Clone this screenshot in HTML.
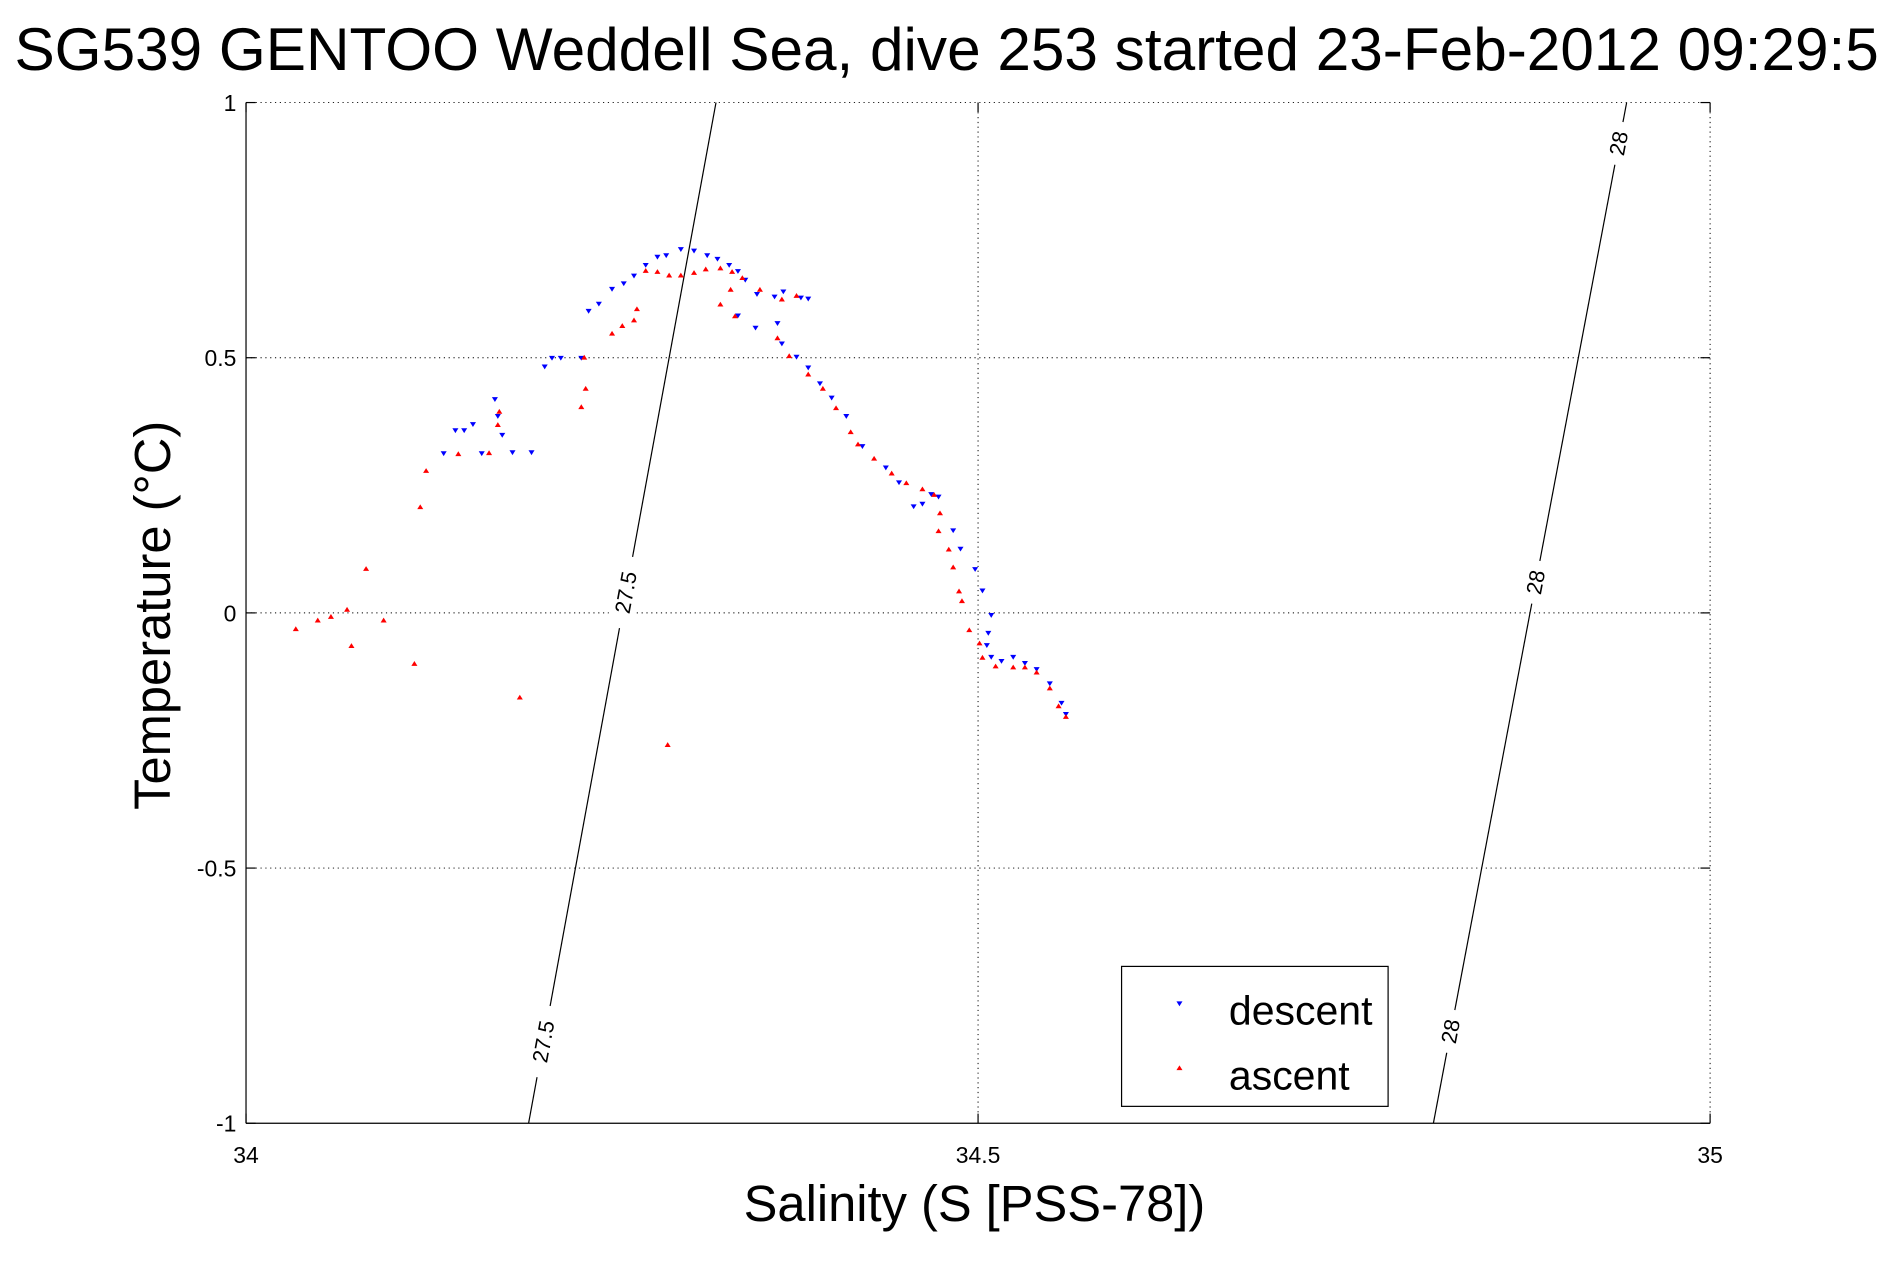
<!DOCTYPE html>
<html><head><meta charset="utf-8"><style>
html,body{margin:0;padding:0;background:#fff;overflow:hidden}
svg{display:block;font-family:"Liberation Sans",sans-serif}
</style></head><body>
<svg id="chart" width="1891" height="1262" viewBox="0 0 1568 1046" preserveAspectRatio="none" xmlns="http://www.w3.org/2000/svg">
<rect width="1568" height="1046" fill="#fff"/>
<text x="12" y="58" font-size="50" fill="#000">SG539 GENTOO Weddell Sea, dive 253 started 23-Feb-2012 09:29:5</text>
<g id="grid"></g>
<g id="contours"></g>
<g id="axes"></g>
<g id="marks"></g>
<text transform="translate(141,510) rotate(-90)" text-anchor="middle" font-size="42">Temperature (°C)</text>
<text x="808" y="1012" text-anchor="middle" font-size="42">Salinity (S [PSS-78])</text>
<g>
<rect x="930" y="801" width="221" height="116" fill="#fff" stroke="#000" stroke-width="1"/>
<polygon points="975.5,830 980.5,830 978,834" fill="#00f"/>
<text x="1019" y="849" font-size="34">descent</text>
<polygon points="975.5,887 980.5,887 978,883" fill="#f00"/>
<text x="1019" y="903" font-size="34">ascent</text>
</g>
</svg>
<script>
const xTicks=[34,34.5,35];
const yTicks=[-1,-0.5,0,0.5,1];
const xTickLabels=["34","34.5","35"];
const yTickLabels=["-1","-0.5","0","0.5","1"];
const descentS=[34.195,34.182,34.161,34.135,34.143,34.149,34.155,34.170,34.172,34.175,34.204,34.209,34.215,34.229,34.234,34.241,34.250,34.258,34.265,34.273,34.281,34.287,34.297,34.306,34.315,34.322,34.330,34.336,34.341,34.349,34.361,34.367,34.379,34.384,34.336,34.348,34.363,34.366,34.376,34.384,34.392,34.400,34.410,34.421,34.437,34.446,34.456,34.462,34.468,34.473,34.483,34.488,34.498,34.503,34.509,34.507,34.506,34.509,34.516,34.524,34.532,34.540,34.549,34.557,34.560];
const descentT=[0.314,0.314,0.312,0.312,0.357,0.357,0.369,0.418,0.385,0.348,0.482,0.499,0.499,0.499,0.591,0.605,0.634,0.645,0.660,0.681,0.697,0.700,0.712,0.709,0.700,0.693,0.681,0.669,0.652,0.624,0.619,0.629,0.617,0.615,0.582,0.558,0.567,0.527,0.501,0.480,0.449,0.421,0.385,0.326,0.284,0.255,0.208,0.213,0.232,0.227,0.161,0.125,0.085,0.043,-0.005,-0.040,-0.064,-0.087,-0.095,-0.087,-0.099,-0.111,-0.139,-0.177,-0.199];
const ascentS=[34.034,34.049,34.058,34.069,34.072,34.082,34.094,34.115,34.119,34.123,34.145,34.166,34.172,34.173,34.187,34.231,34.232,34.229,34.250,34.257,34.265,34.267,34.288,34.273,34.281,34.289,34.297,34.306,34.314,34.324,34.332,34.339,34.331,34.324,34.334,34.351,34.366,34.376,34.363,34.371,34.384,34.394,34.403,34.413,34.418,34.429,34.441,34.451,34.462,34.470,34.474,34.473,34.480,34.483,34.487,34.489,34.494,34.501,34.503,34.512,34.524,34.532,34.540,34.549,34.555,34.560];
const ascentT=[-0.031,-0.014,-0.007,0.007,-0.064,0.087,-0.014,-0.099,0.208,0.279,0.312,0.314,0.369,0.395,-0.165,0.501,0.440,0.404,0.548,0.563,0.574,0.596,-0.258,0.671,0.669,0.662,0.662,0.667,0.674,0.676,0.669,0.657,0.634,0.605,0.582,0.634,0.615,0.622,0.539,0.504,0.468,0.440,0.402,0.355,0.331,0.303,0.274,0.255,0.243,0.232,0.196,0.161,0.125,0.090,0.043,0.024,-0.033,-0.059,-0.087,-0.104,-0.106,-0.106,-0.116,-0.147,-0.182,-0.203];
const contourLevels=["27.5","28"];
const contourTopS=[34.321,34.943];
const contourBottomS=[34.193,34.811];
const contourLabelFrac=[[0.48,0.92],[0.04,0.47,0.91]];

const L=204,R=1418,T=85,B=931;
const xs=s=>L+(s-34)/(35-34)*(R-L);
const ys=t=>B-(t+1)/2*(B-T);
const NS="http://www.w3.org/2000/svg";
function mk(tag,attrs,parent){const e=document.createElementNS(NS,tag);for(const k in attrs)e.setAttribute(k,attrs[k]);parent.appendChild(e);return e;}
const grid=document.getElementById('grid'),axes=document.getElementById('axes'),marks=document.getElementById('marks'),cont=document.getElementById('contours');
xTicks.forEach((v,i)=>{
  const x=xs(v);
  if(i>0&&i<xTicks.length-1){const g=mk('line',{x1:x,x2:x,y1:T,y2:B,stroke:'#000','stroke-width':0.8,'stroke-dasharray':'1,3'},grid);
  
  }
  const t=mk('text',{x:x,y:B+33,'text-anchor':'middle','font-size':19},axes);t.textContent=xTickLabels[i];
  
  
  mk('line',{x1:x,x2:x,y1:B,y2:B-8,stroke:'#000'},axes);
  mk('line',{x1:x,x2:x,y1:T,y2:T+8,stroke:'#000'},axes);
});
yTicks.forEach((v,i)=>{
  const y=ys(v);
  if(i>0&&i<yTicks.length-1){const g=mk('line',{x1:L,x2:R,y1:y,y2:y,stroke:'#000','stroke-width':0.8,'stroke-dasharray':'1,3'},grid);
  
  }
  const t=mk('text',{x:L-8,y:y+7,'text-anchor':'end','font-size':19},axes);t.textContent=yTickLabels[i];
  
  
  mk('line',{x1:L,x2:L+8,y1:y,y2:y,stroke:'#000'},axes);
  mk('line',{x1:R,x2:R-8,y1:y,y2:y,stroke:'#000'},axes);
});
mk('line',{x1:L,x2:R,y1:T,y2:T,stroke:'#000','stroke-width':0.8,'stroke-dasharray':'1,3'},grid);
mk('line',{x1:R,x2:R,y1:T,y2:B,stroke:'#000','stroke-width':0.8,'stroke-dasharray':'1,3'},grid);
mk('line',{x1:L,x2:L,y1:T,y2:B,stroke:'#000','stroke-width':1},axes);
mk('line',{x1:L,x2:R,y1:B,y2:B,stroke:'#000','stroke-width':1},axes);

contourLevels.forEach((lv,i)=>{
  const x1=xs(contourTopS[i]),x2=xs(contourBottomS[i]);
  const ln=mk('line',{x1:x1,y1:T,x2:x2,y2:B,stroke:'#000','stroke-width':1},cont);
  
  
  const ang=Math.atan2(B-T,x2-x1)*180/Math.PI-180;
  contourLabelFrac[i].forEach(f=>{
    const cx=x1+(x2-x1)*f,cy=T+(B-T)*f;
    const g=mk('g',{transform:`translate(${cx},${cy}) rotate(${ang})`},cont);
    mk('rect',{x:-(lv.length*6+6),y:-11,width:lv.length*12+12,height:22,fill:'#fff'},g);
    const t=mk('text',{x:0,y:6,'text-anchor':'middle','font-size':18},g);t.textContent=lv;
    
    
  });
});

descentS.forEach((s,i)=>{
  const x=xs(s),y=ys(descentT[i]);
  const p=mk('polygon',{points:`${x-2.5},${y-2} ${x+2.5},${y-2} ${x},${y+2}`,fill:'#00f'},marks);
  
  
});
ascentS.forEach((s,i)=>{
  const x=xs(s),y=ys(ascentT[i]);
  const p=mk('polygon',{points:`${x-2.5},${y+2} ${x+2.5},${y+2} ${x},${y-2}`,fill:'#f00'},marks);
  
  
});
</script>
</body></html>
